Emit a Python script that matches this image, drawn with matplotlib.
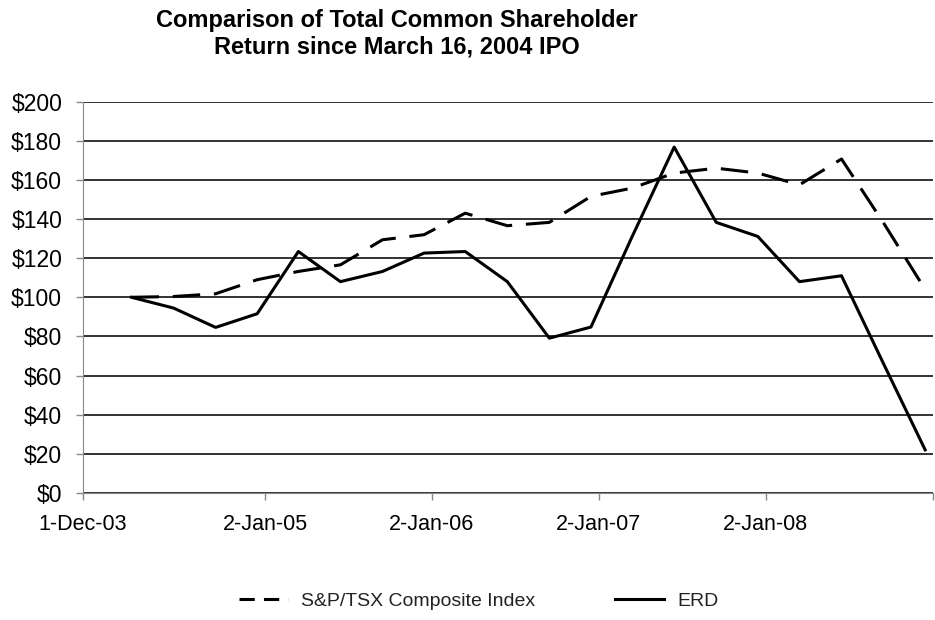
import matplotlib.pyplot as plt
from matplotlib.lines import Line2D
import pandas as pd

plt.rcParams['font.family'] = ['Liberation Sans', 'DejaVu Sans']

# quarterly points starting at the IPO date
dates = pd.date_range('2004-03-16', periods=20, freq=pd.DateOffset(months=3))
tsx = [100, 100.4, 101.8, 109, 113.2, 116.6, 129.4, 132, 143, 136.6,
       138.3, 151.6, 155.8, 163.5, 166, 163.5, 157.5, 170.7, 138, 104]
erd = [100, 94.5, 84.6, 91.6, 123.4, 108, 113.2, 122.6, 123.4, 108,
       79.1, 84.8, 131, 176.8, 138.3, 131.1, 108, 111, 66, 22]

tick_dates = pd.to_datetime(['2003-12-01', '2005-01-02', '2006-01-02',
                             '2007-01-02', '2008-01-02', '2009-01-02'])
tick_labels = ['1-Dec-03', '2-Jan-05', '2-Jan-06', '2-Jan-07', '2-Jan-08', '']

fig = plt.figure(figsize=(9.35, 6.2), dpi=100)
ax = fig.add_axes([0.0888, 0.205, 0.909, 0.631])

ax.plot(dates, tsx, color='black', lw=2.2, dashes=(9, 4.5))
ax.plot(dates, erd, color='black', lw=2.2)

ax.set_xlim(tick_dates[0], tick_dates[-1])
ax.set_ylim(0, 200)
ax.set_yticks(range(0, 201, 20))
ax.set_yticklabels(['$%d' % v for v in range(0, 201, 20)], fontsize=16.5)
ax.set_xticks(tick_dates)
ax.set_xticklabels(tick_labels, fontsize=15.5)

ax.yaxis.grid(True, color='#222222', lw=1.3)
ax.set_axisbelow(True)
for s in ['top', 'right']:
    ax.spines[s].set_visible(False)
ax.spines['left'].set_color('#888888')
ax.spines['bottom'].set_color('#888888')
ax.tick_params(axis='both', color='#888888', length=5, width=1)
ax.tick_params(axis='x', pad=10)
ax.tick_params(axis='y', pad=10)

fig.text(0.425, 0.985, 'Comparison of Total Common Shareholder\nReturn since March 16, 2004 IPO',
         ha='center', va='top', fontsize=17, fontweight='bold', linespacing=1.2)

# legend handles: shorter dashes like the original
handles = [Line2D([], [], color='black', lw=2.2, dashes=(5, 3)),
           Line2D([], [], color='black', lw=2.2)]
labels = ['S&P/TSX Composite Index', 'ERD']
fig.legend(handles, labels, loc='center', bbox_to_anchor=(0.512, 0.03), ncol=2,
           frameon=False, fontsize=14, handlelength=2.5, columnspacing=4.1,
           handletextpad=0.7, labelcolor='#222222')

fig.savefig('out.png', dpi=100)
